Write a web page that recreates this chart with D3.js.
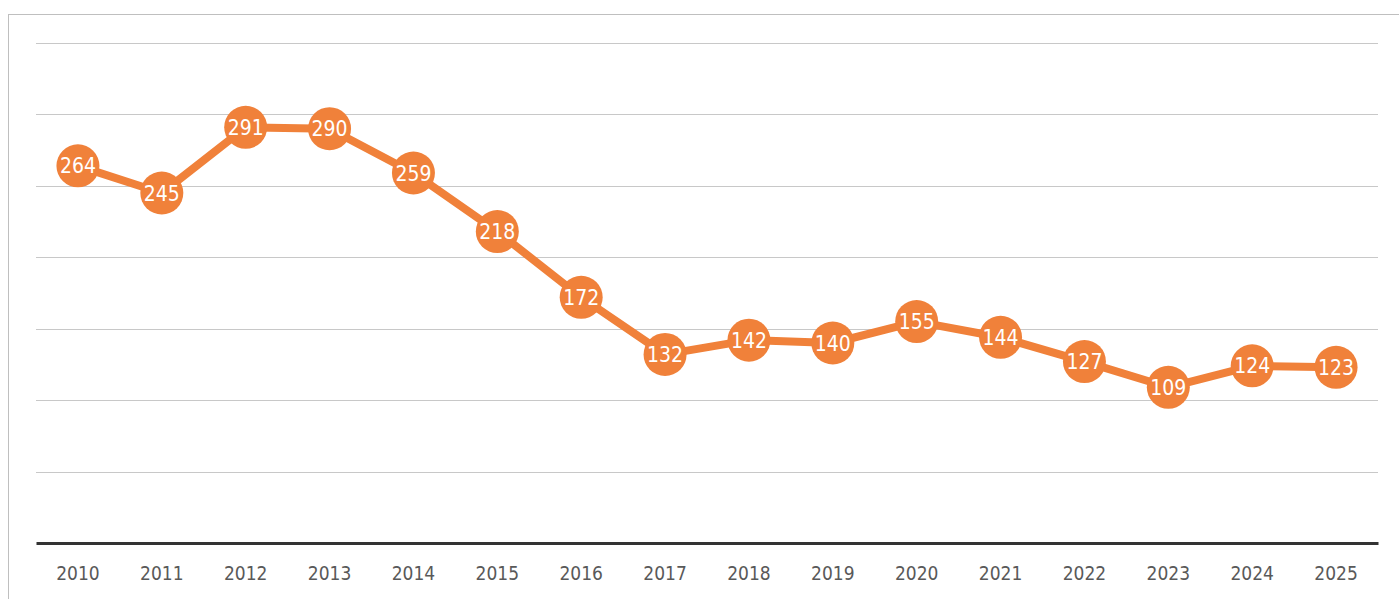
<!DOCTYPE html>
<html>
<head>
<meta charset="utf-8">
<script src="https://cdn.jsdelivr.net/npm/d3@7/dist/d3.min.js"></script>
<style>
  html, body { margin: 0; padding: 0; background: #fff; }
  svg { display: block; }
</style>
</head>
<body>
<svg width="1399" height="599"></svg>
<script>
var years = ["2010", "2011", "2012", "2013", "2014", "2015", "2016", "2017", "2018", "2019", "2020", "2021", "2022", "2023", "2024", "2025"];
var values = [264, 245, 291, 290, 259, 218, 172, 132, 142, 140, 155, 144, 127, 109, 124, 123];
var gridTicks = [50, 100, 150, 200, 250, 300, 350];

var svg = d3.select("svg");
var orange = "#F0813A";

// outer frame
svg.append("rect")
  .attr("x", 8.5).attr("y", 14.5)
  .attr("width", 1400).attr("height", 600)
  .attr("fill", "none").attr("stroke", "#bfbfbf").attr("stroke-width", 1);

var plotLeft = 36, plotRight = 1378, plotTop = 43, plotBottom = 543;

var x = d3.scaleBand().domain(years).range([plotLeft, plotRight]);
var y = d3.scaleLinear().domain([0, 350]).range([plotBottom, plotTop]);

// gridlines
svg.append("g").selectAll("line")
  .data(gridTicks)
  .enter().append("line")
  .attr("x1", plotLeft).attr("x2", plotRight)
  .attr("y1", function(d) { return Math.round(y(d)) + 0.5; })
  .attr("y2", function(d) { return Math.round(y(d)) + 0.5; })
  .attr("stroke", "#c8c8c8")
  .attr("stroke-width", 1);

// x axis
var xAxis = svg.append("g")
  .attr("transform", "translate(0," + plotBottom + ")")
  .call(d3.axisBottom(x).tickSize(0).tickPadding(24));
xAxis.select(".domain").attr("stroke", "#333").attr("stroke-width", 3);
xAxis.selectAll("text")
  .attr("fill", "#595959")
  .style("font-family", "'Liberation Sans Narrow', 'DejaVu Sans Condensed', sans-serif")
  .style("font-size", "19px");

var cx = function(d, i) { return x(years[i]) + x.bandwidth() / 2; };

// line
var line = d3.line()
  .x(function(d, i) { return cx(d, i); })
  .y(function(d) { return y(d); });

svg.append("path")
  .datum(values)
  .attr("d", line)
  .attr("fill", "none")
  .attr("stroke", orange)
  .attr("stroke-width", 8)
  .attr("stroke-linejoin", "round");

// markers
svg.append("g").selectAll("circle")
  .data(values)
  .enter().append("circle")
  .attr("cx", cx)
  .attr("cy", function(d) { return y(d); })
  .attr("r", 21.5)
  .attr("fill", orange);

// labels
svg.append("g").selectAll("text")
  .data(values)
  .enter().append("text")
  .attr("x", cx)
  .attr("y", function(d) { return y(d); })
  .attr("dy", "0.36em")
  .attr("text-anchor", "middle")
  .attr("fill", "#fff")
  .style("font-family", "'Liberation Sans Narrow', 'DejaVu Sans Condensed', sans-serif")
  .style("font-size", "21px")
  .text(function(d) { return d; });
</script>
</body>
</html>
